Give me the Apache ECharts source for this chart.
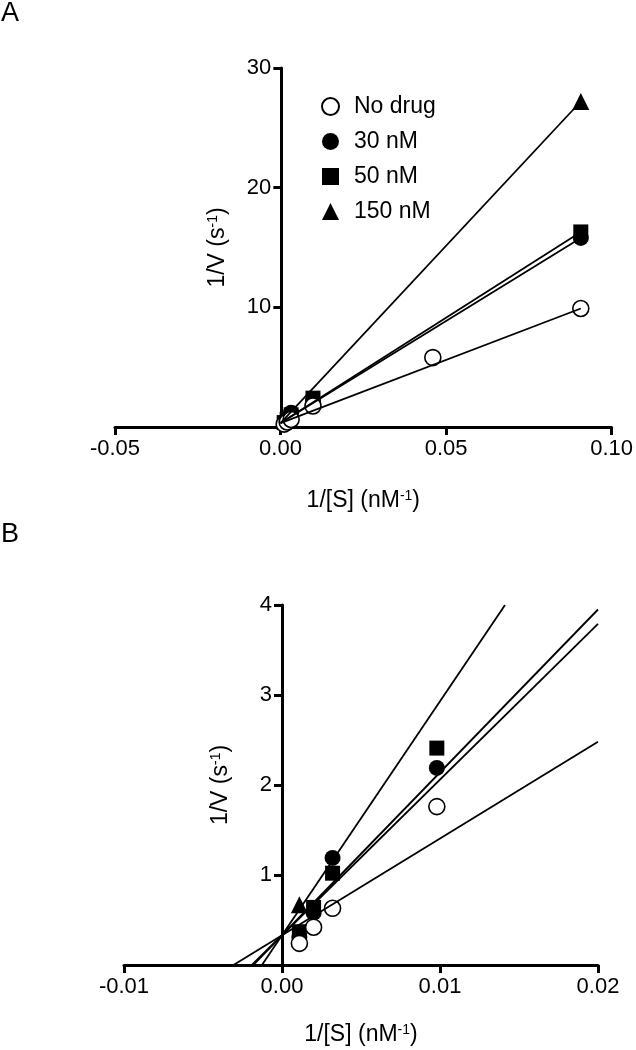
<!DOCTYPE html>
<html>
<head>
<meta charset="utf-8">
<script src="https://cdn.jsdelivr.net/npm/echarts@6/dist/echarts.min.js"></script>
<style>
    html, body { margin: 0; padding: 0; background: #fff; }
    #chart { width: 636px; height: 1050px; }
</style>
</head>
<body>
<div id="chart"></div>
<script>
// 1/[S] values (nM^-1)
const xLow = [0.0011, 0.0020, 0.0032, 0.0098];
const xMid = 0.046;
const xHigh = 0.0907;

// 1/V values (s^-1)
const noDrugY = [0.24, 0.42, 0.63, 1.76, 5.8, 9.9];
const nm30Y = [0.31, 0.58, 1.19, 2.19, 15.8];
const nm50Y = [0.37, 0.64, 1.02, 2.41, 16.3];
const nm150Y = [0.67, 27.2];

const seriesNames = ["No drug", "30 nM", "50 nM", "150 nM"];

// linear fits shown in panel B (intercept, slope)
const fitIntercept = [0.33, 0.33, 0.33, 0.33];
const fitSlope = [107.5, 173, 181, 260];

// axis ranges [min, max, interval]
const xTicksA = [-0.05, 0.10, 0.05];
const yTicksA = [0, 30, 10];
const xTicksB = [-0.01, 0.02, 0.01];
const yTicksB = [0, 4, 1];

const pointsX = [
    [...xLow, xMid, xHigh],
    [...xLow, xHigh],
    [...xLow, xHigh],
    [xLow[0], xHigh]
];
const pointsY = [noDrugY, nm30Y, nm50Y, nm150Y];

const FONT = "'Liberation Sans', Arial, sans-serif";
const symbols = ["circle", "circle", "rect", "triangle"];
const sizes = [16, 16, 15, 17];

const gridA = {left: 115, right: 22, top: 68, bottom: 623};
const gridB = {left: 124, right: 38, top: 605, bottom: 85};
const W = 636;

function pairs(xs, ys) {
    return xs.map((x, i) => [x, ys[i]]);
}

// panel A: fit lines drawn from the intercept to the last point
function lineA(i) {
    const xs = pointsX[i], ys = pointsY[i];
    return [[0, fitIntercept[i]], [xs[xs.length - 1], ys[ys.length - 1]]];
}

// panel B: fit lines from x-intercept to the end of the axis (clipped at y max)
function lineB(i) {
    const b = fitIntercept[i], m = fitSlope[i];
    const x0 = -b / m;
    let x1 = xTicksB[1];
    if (b + m * x1 > yTicksB[1]) x1 = (yTicksB[1] - b) / m;
    return [[x0, 0], [x1, b + m * x1]];
}

// where x = 0 sits inside the grid, so the y axis can be moved there
function zeroOffset(grid, t) {
    const w = W - grid.left - grid.right;
    return -w * (0 - t[0]) / (t[1] - t[0]);
}

const supRich = {sup: {fontFamily: FONT, fontSize: 14, verticalAlign: "top", lineHeight: 12}};

function xAxis(gridIndex, t, gap) {
    return {
        gridIndex: gridIndex,
        type: "value",
        min: t[0], max: t[1], interval: t[2],
        name: "1/[S] (nM{sup|-1})",
        nameLocation: "middle",
        nameGap: gap,
        nameTextStyle: {fontFamily: FONT, fontSize: 23, color: "#000", rich: supRich},
        axisLine: {show: true, onZero: false, lineStyle: {color: "#000", width: 3}},
        axisTick: {show: true, length: 8, lineStyle: {color: "#000", width: 3}},
        axisLabel: {
            margin: 11, fontFamily: FONT, fontSize: 22, color: "#000",
            formatter: v => v.toFixed(2)
        },
        splitLine: {show: false}
    };
}

function yAxis(gridIndex, t, gap, offset) {
    return {
        gridIndex: gridIndex,
        type: "value",
        min: t[0], max: t[1], interval: t[2],
        offset: offset,
        name: "1/V (s{sup|-1})",
        nameLocation: "middle",
        nameRotate: 90,
        nameGap: gap,
        nameTextStyle: {fontFamily: FONT, fontSize: 23, color: "#000", rich: supRich},
        axisLine: {show: true, onZero: false, lineStyle: {color: "#000", width: 3}},
        axisTick: {show: true, length: 8, lineStyle: {color: "#000", width: 3}},
        axisLabel: {
            margin: 10, fontFamily: FONT, fontSize: 22, color: "#000",
            formatter: v => (v === 0 ? "" : String(v))
        },
        splitLine: {show: false}
    };
}

const series = [];
// fit lines first so the markers sit on top
for (let i = 0; i < 4; i++) {
    series.push({
        name: "fitA" + i, type: "line", xAxisIndex: 0, yAxisIndex: 0,
        data: lineA(i), symbol: "none", silent: true,
        lineStyle: {color: "#000", width: 1.8}
    });
    series.push({
        name: "fitB" + i, type: "line", xAxisIndex: 1, yAxisIndex: 1,
        data: lineB(i), symbol: "none", silent: true,
        lineStyle: {color: "#000", width: 1.8}
    });
}
// draw order of markers: 30 nM, 50 nM, 150 nM, then open circles on top
[1, 2, 3, 0].forEach(i => {
    for (let p = 0; p < 2; p++) {
        series.push({
            name: seriesNames[i], type: "scatter",
            xAxisIndex: p, yAxisIndex: p,
            data: pairs(pointsX[i], pointsY[i]),
            symbol: symbols[i], symbolSize: sizes[i],
            itemStyle: i === 0
                ? {color: "#fff", borderColor: "#000", borderWidth: 1.6, opacity: 1}
                : {color: "#000", opacity: 1}
        });
    }
});

const chart = echarts.init(document.getElementById("chart"), null, {renderer: "canvas"});
chart.setOption({
    backgroundColor: "#fff",
    animation: false,
    grid: [gridA, gridB],
    xAxis: [xAxis(0, xTicksA, 62), xAxis(1, xTicksB, 58)],
    yAxis: [
        yAxis(0, yTicksA, 52, zeroOffset(gridA, xTicksA)),
        yAxis(1, yTicksB, 50, zeroOffset(gridB, xTicksB))
    ],
    legend: {
        data: seriesNames,
        orient: "vertical",
        left: 316, top: 90,
        itemWidth: 17, itemHeight: 17, itemGap: 12,
        textStyle: {fontFamily: FONT, fontSize: 23, color: "#000", padding: [0, 0, 0, 10]}
    },
    graphic: [
        {type: "text", left: 1, top: 0, style: {text: "A", font: "27px " + FONT, fill: "#000"}},
        {type: "text", left: 1, top: 521, style: {text: "B", font: "27px " + FONT, fill: "#000"}}
    ],
    series: series
});
</script>
</body>
</html>
